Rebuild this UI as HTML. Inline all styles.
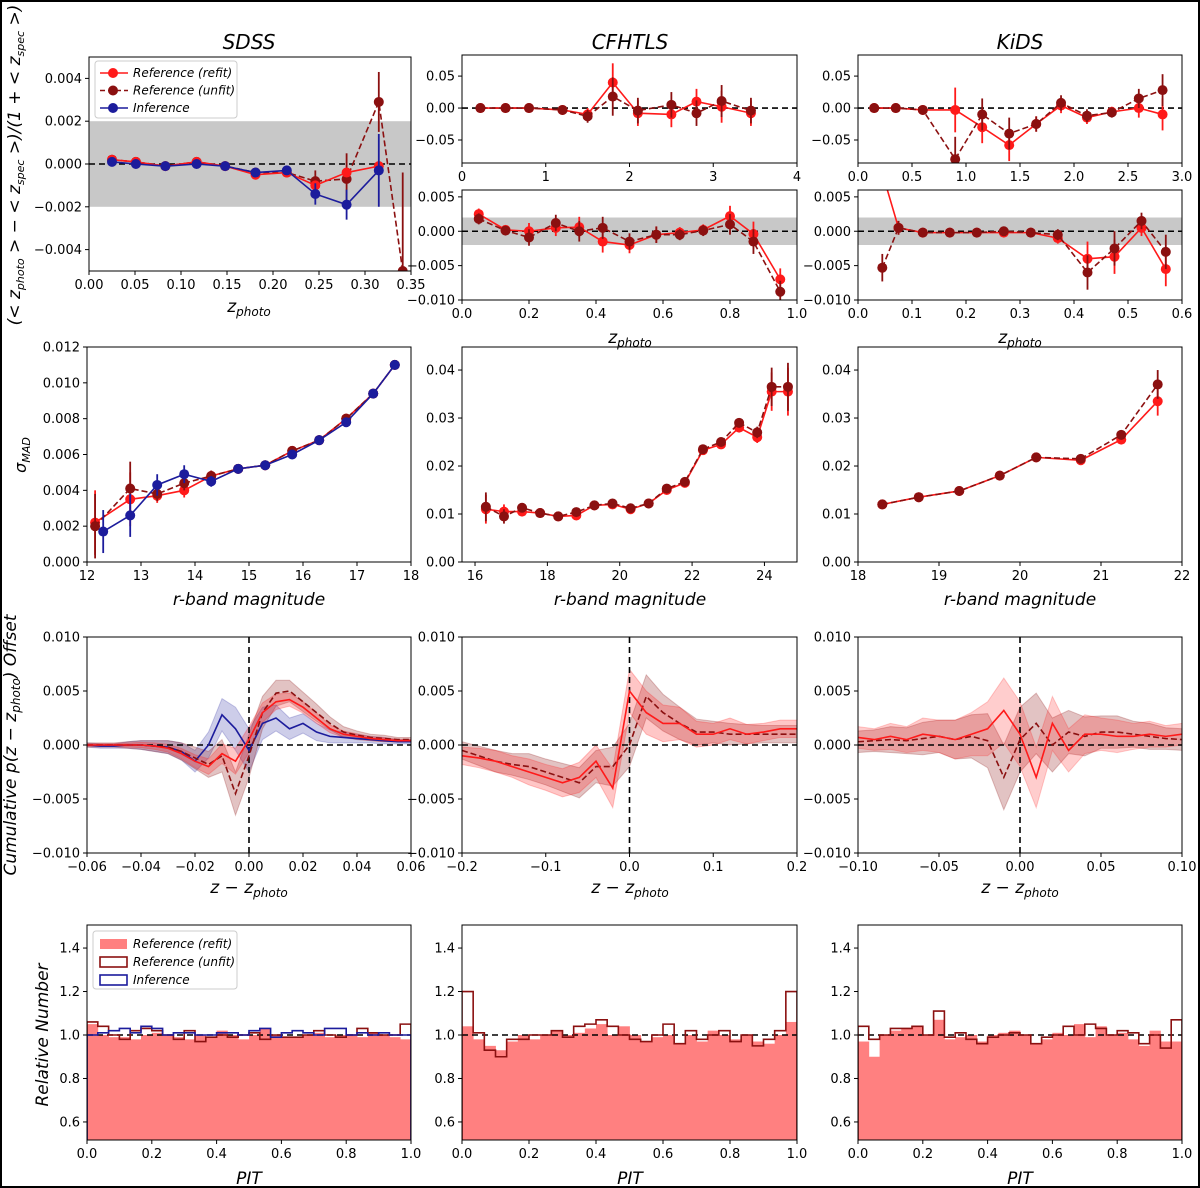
<!DOCTYPE html>
<html><head><meta charset="utf-8">
<style>
html,body{margin:0;padding:0;background:#fff;}
svg{display:block;font-family:"DejaVu Sans","Liberation Sans",sans-serif;}
.tl{font-size:13px;fill:#000;}
</style></head>
<body>
<svg id="fig" width="1200" height="1188" viewBox="0 0 1200 1188" xmlns="http://www.w3.org/2000/svg">
<rect x="1" y="1" width="1198" height="1186" fill="#fff" stroke="#000" stroke-width="2"/>
<text x="249" y="49" font-size="20" font-style="italic" text-anchor="middle">SDSS</text>
<text x="630" y="49" font-size="20" font-style="italic" text-anchor="middle">CFHTLS</text>
<text x="1020" y="49" font-size="20" font-style="italic" text-anchor="middle">KiDS</text>
<text transform="translate(20,165) rotate(-90)" font-size="17" font-style="italic" text-anchor="middle">(&lt; z<tspan font-size="11" dy="4">photo</tspan><tspan dy="-4"> &gt; − &lt; z</tspan><tspan font-size="11" dy="4">spec</tspan><tspan dy="-4"> &gt;)/(1 + &lt; z</tspan><tspan font-size="11" dy="4">spec</tspan><tspan dy="-4"> &gt;)</tspan></text>
<text transform="translate(26,455) rotate(-90)" font-size="16" font-style="italic" text-anchor="middle">σ<tspan font-size="11" dy="4">MAD</tspan></text>
<text transform="translate(16,745) rotate(-90)" font-size="17" font-style="italic" text-anchor="middle">Cumulative p(z − z<tspan font-size="12" dy="4">photo</tspan><tspan dy="-4">) Offset</tspan></text>
<text transform="translate(48,1035) rotate(-90)" font-size="17" font-style="italic" text-anchor="middle">Relative Number</text>
</svg>
<script>
const NS='http://www.w3.org/2000/svg';
const fig=document.getElementById('fig');
const RED='#ff1a1a', DRED='#8b1010', BLUE='#1c1c9c';

// ---------- DATA ----------
const sdssBiasX=[0.025,0.051,0.083,0.117,0.148,0.181,0.215,0.246,0.280,0.315];
const sdssBiasRefit=[0.0002,0.0001,-0.0001,0.0001,-0.0001,-0.0005,-0.0004,-0.0010,-0.0004,-0.0001];
const sdssBiasUnfitX=[0.025,0.051,0.083,0.117,0.148,0.181,0.215,0.246,0.280,0.315,0.341];
const sdssBiasUnfit=[0.0002,0.0001,-0.0001,0.0001,-0.0001,-0.0004,-0.0004,-0.0008,-0.0007,0.0029,-0.0050];
const sdssBiasUnfitErr=[0.0001,0.0001,0.0001,0.0001,0.0001,0.0001,0.0002,0.0005,0.0012,0.0014,0.0046];
const sdssBiasInfer=[0.0001,0.0000,-0.0001,0.0000,-0.0001,-0.0004,-0.0003,-0.0014,-0.0019,-0.0003];
const sdssBiasInferErr=[0.0001,0.0001,0.0001,0.0001,0.0001,0.0001,0.0002,0.0005,0.0007,0.0017];

const cfhtBiasX=[0.22,0.52,0.8,1.2,1.5,1.8,2.1,2.5,2.8,3.1,3.45];
const cfhtBiasRefit=[0,0,0,-0.003,-0.01,0.04,-0.008,-0.01,0.01,0.002,-0.008];
const cfhtBiasUnfit=[0,0,0,-0.003,-0.013,0.018,-0.004,0.005,-0.008,0.011,-0.004];
const cfhtBiasErr=[0.003,0.003,0.003,0.006,0.01,0.03,0.02,0.02,0.02,0.025,0.02];

const kidsBiasX=[0.15,0.35,0.6,0.9,1.15,1.4,1.65,1.88,2.12,2.35,2.6,2.82];
const kidsBiasRefit=[0,0,-0.003,-0.003,-0.03,-0.058,-0.025,0.004,-0.015,-0.006,0,-0.01];
const kidsBiasUnfit=[0,0,-0.003,-0.08,-0.01,-0.04,-0.025,0.008,-0.012,-0.007,0.015,0.028];
const kidsBiasErr=[0.003,0.003,0.005,0.035,0.025,0.025,0.012,0.012,0.01,0.008,0.015,0.025];

const cfhtBiasLoX=[0.05,0.13,0.2,0.28,0.35,0.42,0.5,0.58,0.65,0.72,0.8,0.87,0.95];
const cfhtBiasLoRefit=[0.0025,0.0002,0,0.0005,0.0006,-0.0015,-0.002,-0.0005,-0.0002,0.0002,0.0022,-0.0004,-0.007];
const cfhtBiasLoUnfit=[0.0018,0.0001,-0.0009,0.0012,0,0.0005,-0.0015,-0.0005,-0.0005,0.0001,0.001,-0.0015,-0.0088];
const cfhtBiasLoErr=[0.0008,0.0004,0.0012,0.0012,0.0015,0.0016,0.0012,0.0012,0.0008,0.0008,0.0015,0.0018,0.0016];

const kidsBiasLoX=[0.045,0.075,0.12,0.17,0.22,0.27,0.32,0.37,0.425,0.475,0.525,0.57];
const kidsBiasLoRefit=[0.0085,0.0005,-0.0002,-0.0002,-0.0002,-0.0002,-0.0002,-0.001,-0.004,-0.0037,0.0005,-0.0055];
const kidsBiasLoUnfit=[-0.0053,0.0005,-0.0002,-0.0002,-0.0002,0,-0.0002,-0.0005,-0.006,-0.0025,0.0015,-0.003];
const kidsBiasLoErr=[0.002,0.001,0.0004,0.0004,0.0004,0.0004,0.0004,0.0008,0.0025,0.0025,0.0012,0.0025];

const sdssMagX=[12.15,12.8,13.3,13.8,14.3,14.8,15.3,15.8,16.3,16.8,17.3,17.7];
const sdssSigRefit=[0.0022,0.0035,0.0037,0.0040,0.0048,0.0052,0.0054,0.0062,0.0068,0.0080,0.0094,0.0110];
const sdssSigUnfit=[0.0020,0.0041,0.0038,0.0044,0.0048,0.0052,0.0054,0.0062,0.0068,0.0080,0.0094,0.0110];
const sdssSigErr=[0.0018,0.0015,0.0004,0.0004,0.0003,0.0002,0.0002,0.0002,0.0002,0.0002,0.0002,0.0002];
const sdssMagInferX=[12.3,12.8,13.3,13.8,14.3,14.8,15.3,15.8,16.3,16.8,17.3,17.7];
const sdssSigInfer=[0.0017,0.0026,0.0043,0.0049,0.0045,0.0052,0.0054,0.0060,0.0068,0.0078,0.0094,0.0110];
const sdssSigInferErr=[0.0012,0.0012,0.0006,0.0005,0.0003,0.0002,0.0002,0.0002,0.0002,0.0002,0.0002,0.0002];

const cfhtMagX=[16.3,16.8,17.3,17.8,18.3,18.8,19.3,19.8,20.3,20.8,21.3,21.8,22.3,22.8,23.3,23.8,24.2,24.65];
const cfhtSigRefit=[0.011,0.0105,0.0105,0.0102,0.0095,0.0097,0.0118,0.012,0.011,0.0122,0.015,0.0165,0.0233,0.0245,0.028,0.026,0.0355,0.0355];
const cfhtSigUnfit=[0.0115,0.0095,0.0113,0.0102,0.0095,0.0104,0.0118,0.0122,0.0112,0.0122,0.0153,0.0167,0.0235,0.025,0.029,0.027,0.0365,0.0365];
const cfhtSigErr=[0.003,0.0015,0.0008,0.0006,0.0005,0.0005,0.0005,0.0005,0.0005,0.0005,0.0006,0.0006,0.0007,0.0008,0.001,0.0012,0.004,0.005];

const kidsMagX=[18.3,18.75,19.25,19.75,20.2,20.75,21.25,21.7];
const kidsSigRefit=[0.012,0.0135,0.0148,0.018,0.0218,0.0212,0.0255,0.0335];
const kidsSigUnfit=[0.012,0.0135,0.0148,0.018,0.0218,0.0215,0.0265,0.037];
const kidsSigErr=[0.0004,0.0004,0.0004,0.0005,0.0005,0.0007,0.001,0.003];

const sdssCumX=[-0.06,-0.055,-0.05,-0.045,-0.04,-0.035,-0.03,-0.025,-0.02,-0.015,-0.01,-0.005,0,0.005,0.01,0.015,0.02,0.025,0.03,0.035,0.04,0.045,0.05,0.055,0.06];
const sdssCumRefit=[0,0,0,0,0,-0.0001,-0.0003,-0.0008,-0.0015,-0.002,-0.0008,-0.0015,0.0005,0.003,0.004,0.0042,0.0035,0.0025,0.0015,0.001,0.0008,0.0006,0.0005,0.0004,0.0004];
const sdssCumUnfit=[0,0,0,0,0,-0.0001,-0.0002,-0.0006,-0.0012,-0.0018,-0.001,-0.0045,-0.001,0.003,0.0048,0.005,0.004,0.003,0.002,0.0012,0.0009,0.0007,0.0006,0.0005,0.0005];
const sdssCumInfer=[0,-0.0001,-0.0001,0,0,-0.0001,-0.0002,-0.0006,-0.0015,0,0.0028,0.0015,-0.0005,0.002,0.0025,0.0015,0.002,0.0012,0.0008,0.0007,0.0006,0.0005,0.0004,0.0003,0.0003];
const sdssCumErr=[0.0002,0.0002,0.0002,0.0003,0.0004,0.0005,0.0006,0.0008,0.001,0.0012,0.0015,0.002,0.002,0.0015,0.0012,0.001,0.0009,0.0008,0.0006,0.0005,0.0004,0.0003,0.0003,0.0002,0.0002];

const cfhtCumX=[-0.2,-0.18,-0.16,-0.14,-0.12,-0.1,-0.08,-0.06,-0.04,-0.02,0,0.02,0.04,0.06,0.08,0.1,0.12,0.14,0.16,0.18,0.2];
const cfhtCumRefit=[-0.001,-0.0012,-0.0015,-0.002,-0.0025,-0.003,-0.0035,-0.003,-0.0015,-0.004,0.005,0.003,0.002,0.002,0.001,0.001,0.0015,0.001,0.0012,0.0015,0.0015];
const cfhtCumUnfit=[-0.0005,-0.001,-0.0015,-0.0018,-0.002,-0.0025,-0.003,-0.0035,-0.002,-0.002,0,0.0045,0.003,0.002,0.0012,0.0012,0.001,0.001,0.001,0.001,0.001];
const cfhtCumErr=[0.0008,0.0009,0.001,0.001,0.0012,0.0012,0.0013,0.0014,0.0015,0.0018,0.002,0.002,0.0017,0.0015,0.0012,0.001,0.001,0.0009,0.0008,0.0008,0.0008];

const kidsCumX=[-0.1,-0.09,-0.08,-0.07,-0.06,-0.05,-0.04,-0.03,-0.02,-0.01,0,0.01,0.02,0.03,0.04,0.05,0.06,0.07,0.08,0.09,0.1];
const kidsCumRefit=[0.0007,0.0005,0.0008,0.0005,0.001,0.0008,0.0005,0.001,0.0015,0.0032,0.001,-0.003,0.002,-0.0005,0.001,0.001,0.0008,0.0008,0.001,0.0008,0.001];
const kidsCumUnfit=[0.0003,0.0004,0.0005,0.0004,0.0006,0.0008,0.0005,0.0008,0.0004,-0.003,0.0005,0.002,0,0.0012,0.0008,0.0012,0.0012,0.001,0.0008,0.0006,0.0005];
const kidsCumErr=[0.001,0.001,0.0012,0.0012,0.0015,0.0015,0.0018,0.002,0.0025,0.003,0.003,0.0028,0.0025,0.002,0.0018,0.0015,0.0015,0.0012,0.0012,0.001,0.001];

const sdssPitRefit=[1.05,1.0,0.99,0.99,0.98,1.0,1.01,1.0,0.99,0.98,1.0,0.99,1.02,1.0,0.98,1.0,1.03,1.0,0.99,0.99,1.0,1.01,0.99,1.0,1.0,0.99,1.01,1.0,0.99,0.98];
const sdssPitUnfit=[1.06,1.04,1.0,0.98,1.02,1.03,1.02,1.0,0.98,1.02,0.97,0.99,1.0,0.99,1.0,1.01,0.98,1.0,0.99,0.99,1.0,1.02,1.0,0.99,1.0,1.03,1.01,1.0,1.0,1.05];
const sdssPitInfer=[1.0,1.01,1.02,1.03,1.01,1.04,1.03,1.0,1.01,1.01,1.0,1.0,1.01,1.01,1.0,1.02,1.03,0.99,1.01,1.02,1.01,1.0,1.03,1.03,1.0,1.01,1.0,1.01,1.0,1.0];
const cfhtPitRefit=[1.04,0.98,0.95,0.93,0.97,1.0,0.98,1.0,1.02,1.0,1.01,1.03,1.05,1.0,1.04,1.0,0.97,0.99,1.0,0.96,1.0,0.97,1.02,1.0,0.98,1.0,0.97,0.96,1.0,1.06];
const cfhtPitUnfit=[1.2,1.01,0.93,0.9,0.98,0.98,1.0,1.0,1.02,0.99,1.04,1.05,1.07,1.04,1.0,0.98,0.97,1.0,1.05,0.96,1.02,0.98,1.0,1.02,0.97,1.0,0.95,0.98,1.02,1.2];
const kidsPitRefit=[0.97,0.9,1.0,1.02,1.03,1.04,1.0,1.07,0.98,0.99,1.0,0.97,1.0,1.01,1.02,1.0,0.96,0.98,1.01,1.0,1.05,0.99,1.04,1.0,1.01,0.98,0.95,1.02,0.97,0.97];
const kidsPitUnfit=[1.04,0.98,1.0,1.03,1.03,1.04,1.0,1.11,0.99,1.01,0.98,0.96,0.99,1.0,1.01,1.0,0.96,0.99,1.0,1.04,1.0,1.05,1.03,1.0,1.02,1.01,0.96,1.0,0.94,1.07];

// ---------- HELPERS ----------
function el(tag,parent){const e=document.createElementNS(NS,tag);(parent||fig).appendChild(e);return e;}
function fmt(v,d){const s=Math.abs(v).toFixed(d);return (v<-1e-12?'\u2212':'')+s;}
function panel(name,x0,x1,y0,y1,xd,yd,xt,xdec,yt,ydec){
  const g=el('g');
  
  
  const sx=v=>x0+(v-xd[0])/(xd[1]-xd[0])*(x1-x0);
  const sy=v=>y1-(v-yd[0])/(yd[1]-yd[0])*(y1-y0);
  const cp='cp-'+name;
  const c=el('clipPath',g);c.setAttribute('id',cp);
  const cr=el('rect',c);cr.setAttribute('x',x0);cr.setAttribute('y',y0);cr.setAttribute('width',x1-x0);cr.setAttribute('height',y1-y0);
  const plot=el('g',g);plot.setAttribute('clip-path','url(#'+cp+')');
  
  
  const ax=el('g',g);
  
  
  xt.forEach(v=>{const X=sx(v);const l=el('line',ax);l.setAttribute('x1',X);l.setAttribute('x2',X);l.setAttribute('y1',y1);l.setAttribute('y2',y1+4);l.setAttribute('stroke','#000');
    const t=el('text',ax);t.setAttribute('class','tl');t.setAttribute('x',X);t.setAttribute('y',y1+18);t.setAttribute('text-anchor','middle');t.textContent=fmt(v,xdec);
    
    });
  yt.forEach(v=>{const Y=sy(v);const l=el('line',ax);l.setAttribute('x1',x0-4);l.setAttribute('x2',x0);l.setAttribute('y1',Y);l.setAttribute('y2',Y);l.setAttribute('stroke','#000');
    const t=el('text',ax);t.setAttribute('class','tl');t.setAttribute('x',x0-7);t.setAttribute('y',Y+4.5);t.setAttribute('text-anchor','end');t.textContent=fmt(v,ydec);
    
    });
  return {g,plot,ax,sx,sy,x0,x1,y0,y1,
    frame(){const r=el('rect',g);r.setAttribute('x',x0);r.setAttribute('y',y0);r.setAttribute('width',x1-x0);r.setAttribute('height',y1-y0);r.setAttribute('fill','none');r.setAttribute('stroke','#000');r.setAttribute('stroke-width','1');
      
      }};
}
function band(P,lo,hi){const r=el('rect',P.plot);r.setAttribute('x',P.x0);r.setAttribute('width',P.x1-P.x0);r.setAttribute('y',P.sy(hi));r.setAttribute('height',P.sy(lo)-P.sy(hi));r.setAttribute('fill','#c8c8c8');
  
  }
function hline(P,v){const l=el('line',P.plot);l.setAttribute('x1',P.x0);l.setAttribute('x2',P.x1);l.setAttribute('y1',P.sy(v));l.setAttribute('y2',P.sy(v));l.setAttribute('stroke','#000');l.setAttribute('stroke-width','1.6');l.setAttribute('stroke-dasharray','6,4');
  
  }
function vline(P,v){const l=el('line',P.plot);l.setAttribute('x1',P.sx(v));l.setAttribute('x2',P.sx(v));l.setAttribute('y1',P.y0);l.setAttribute('y2',P.y1);l.setAttribute('stroke','#000');l.setAttribute('stroke-width','1.6');l.setAttribute('stroke-dasharray','6,4');
  
  }
function series(P,name,xs,ys,errs,color,dashed,markers){
  const g=el('g',P.plot);
  
  
  const pl=el('polyline',g);pl.setAttribute('points',xs.map((x,i)=>P.sx(x)+','+P.sy(ys[i])).join(' '));pl.setAttribute('fill','none');pl.setAttribute('stroke',color);pl.setAttribute('stroke-width','1.6');if(dashed)pl.setAttribute('stroke-dasharray','6,3');
  if(errs)xs.forEach((x,i)=>{const l=el('line',g);l.setAttribute('x1',P.sx(x));l.setAttribute('x2',P.sx(x));l.setAttribute('y1',P.sy(ys[i]-errs[i]));l.setAttribute('y2',P.sy(ys[i]+errs[i]));l.setAttribute('stroke',color);l.setAttribute('stroke-width','1.8');});
  if(markers)xs.forEach((x,i)=>{const c=el('circle',g);c.setAttribute('cx',P.sx(x));c.setAttribute('cy',P.sy(ys[i]));c.setAttribute('r','5');c.setAttribute('fill',color);
    
    });
}
function area(P,name,xs,ys,errs,color,op){
  const p=el('path',P.plot);
  
  
  let d='M'+xs.map((x,i)=>P.sx(x)+','+P.sy(ys[i]+errs[i])).join('L');
  for(let i=xs.length-1;i>=0;i--)d+='L'+P.sx(xs[i])+','+P.sy(ys[i]-errs[i]);
  p.setAttribute('d',d+'Z');p.setAttribute('fill',color);p.setAttribute('fill-opacity',op);p.setAttribute('stroke',color);p.setAttribute('stroke-opacity',op);
}
function bars(P,name,vals){
  const g=el('g',P.plot);
  
  
  const w=1/vals.length;
  vals.forEach((v,i)=>{const r=el('rect',g);const X=P.sx(i*w),X2=P.sx((i+1)*w);r.setAttribute('x',X);r.setAttribute('width',X2-X+0.4);r.setAttribute('y',P.sy(v));r.setAttribute('height',P.y1-P.sy(v));r.setAttribute('fill','#ff8080');
    
    });
}
function step(P,name,vals,color){
  const w=1/vals.length;let pts=[[P.sx(0),P.y1]];
  vals.forEach((v,i)=>{pts.push([P.sx(i*w),P.sy(v)]);pts.push([P.sx((i+1)*w),P.sy(v)]);});
  pts.push([P.sx(1),P.y1]);
  const pl=el('polyline',P.plot);
  
  
  pl.setAttribute('points',pts.map(p=>p.join(',')).join(' '));pl.setAttribute('fill','none');pl.setAttribute('stroke',color);pl.setAttribute('stroke-width','1.6');
}
function xlabel(x,y,main,sub,name){const t=el('text');t.setAttribute('x',x);t.setAttribute('y',y);t.setAttribute('text-anchor','middle');t.setAttribute('font-size','17');t.setAttribute('font-style','italic');
  
  
  t.innerHTML=main+(sub?'<tspan font-size="12" dy="4">'+sub+'</tspan>':'');}
function range(a,b,s){const r=[];for(let v=a;v<=b+s/1000;v+=s)r.push(Math.round(v/s)*s);return r;}

// ---------- ROW 1 ----------
let P=panel('sdss-bias-panel',89,411,57,271,[0,0.35],[-0.005,0.005],range(0,0.35,0.05),2,range(-0.004,0.004,0.002),3);
band(P,-0.002,0.002);hline(P,0);
series(P,'sdss-bias-unfit',sdssBiasUnfitX,sdssBiasUnfit,sdssBiasUnfitErr,DRED,true,true);
series(P,'sdss-bias-refit',sdssBiasX,sdssBiasRefit,null,RED,false,true);
series(P,'sdss-bias-inference',sdssBiasX,sdssBiasInfer,sdssBiasInferErr,BLUE,false,true);
P.frame();
xlabel(249,312,'z','photo','x-axis-title-sdss-bias');
(function(){const g=el('g');
  
  
  const r=el('rect',g);r.setAttribute('x',95);r.setAttribute('y',61);r.setAttribute('width',142);r.setAttribute('height',57);r.setAttribute('rx',3);r.setAttribute('fill','#fff');r.setAttribute('fill-opacity','0.85');r.setAttribute('stroke','#ccc');
  [['Reference (refit)',RED,false],['Reference (unfit)',DRED,true],['Inference',BLUE,false]].forEach((e,i)=>{const y=73+i*17.5;
    const gg=el('g',g);
    
    
    const l=el('line',gg);l.setAttribute('x1',100);l.setAttribute('x2',128);l.setAttribute('y1',y);l.setAttribute('y2',y);l.setAttribute('stroke',e[1]);l.setAttribute('stroke-width','1.6');if(e[2])l.setAttribute('stroke-dasharray','5,3');
    const c=el('circle',gg);c.setAttribute('cx',113);c.setAttribute('cy',y);c.setAttribute('r',5);c.setAttribute('fill',e[1]);
    const t=el('text',gg);t.setAttribute('x',133);t.setAttribute('y',y+4);t.setAttribute('font-size','12');t.setAttribute('font-style','italic');t.textContent=e[0];});
})();

P=panel('cfhtls-bias-panel',462,797,55,163,[0,4],[-0.086,0.083],range(0,4,1),0,[-0.05,0,0.05],2);
hline(P,0);
series(P,'cfhtls-bias-refit',cfhtBiasX,cfhtBiasRefit,cfhtBiasErr,RED,false,true);
series(P,'cfhtls-bias-unfit',cfhtBiasX,cfhtBiasUnfit,cfhtBiasErr,DRED,true,true);
P.frame();
P=panel('kids-bias-panel',858,1182,55,163,[0,3],[-0.086,0.083],range(0,3,0.5),1,[-0.05,0,0.05],2);
hline(P,0);
series(P,'kids-bias-refit',kidsBiasX,kidsBiasRefit,kidsBiasErr,RED,false,true);
series(P,'kids-bias-unfit',kidsBiasX,kidsBiasUnfit,kidsBiasErr,DRED,true,true);
P.frame();
P=panel('cfhtls-bias-low-panel',462,797,190,300,[0,1],[-0.010,0.006],range(0,1,0.2),1,range(-0.01,0.005,0.005),3);
band(P,-0.002,0.002);hline(P,0);
series(P,'cfhtls-bias-low-refit',cfhtBiasLoX,cfhtBiasLoRefit,cfhtBiasLoErr,RED,false,true);
series(P,'cfhtls-bias-low-unfit',cfhtBiasLoX,cfhtBiasLoUnfit,cfhtBiasLoErr,DRED,true,true);
P.frame();
xlabel(630,343,'z','photo','x-axis-title-cfhtls-bias');
P=panel('kids-bias-low-panel',858,1182,190,300,[0,0.6],[-0.010,0.006],range(0,0.6,0.1),1,range(-0.01,0.005,0.005),3);
band(P,-0.002,0.002);hline(P,0);
series(P,'kids-bias-low-refit',kidsBiasLoX,kidsBiasLoRefit,kidsBiasLoErr,RED,false,true);
series(P,'kids-bias-low-unfit',kidsBiasLoX,kidsBiasLoUnfit,kidsBiasLoErr,DRED,true,true);
P.frame();
xlabel(1020,343,'z','photo','x-axis-title-kids-bias');

// ---------- ROW 2 ----------
P=panel('sdss-sigma-panel',87,411,347,562,[12,18],[0,0.012],range(12,18,1),0,range(0,0.012,0.002),3);
series(P,'sdss-sigma-refit',sdssMagX,sdssSigRefit,sdssSigErr,RED,false,true);
series(P,'sdss-sigma-unfit',sdssMagX,sdssSigUnfit,sdssSigErr,DRED,true,true);
series(P,'sdss-sigma-inference',sdssMagInferX,sdssSigInfer,sdssSigInferErr,BLUE,false,true);
P.frame();
xlabel(249,605,'r-band  magnitude','','x-axis-title-sdss-mag');
P=panel('cfhtls-sigma-panel',462,797,347,562,[15.64,24.9],[0,0.0448],range(16,24,2),0,range(0,0.04,0.01),2);
series(P,'cfhtls-sigma-refit',cfhtMagX,cfhtSigRefit,cfhtSigErr,RED,false,true);
series(P,'cfhtls-sigma-unfit',cfhtMagX,cfhtSigUnfit,cfhtSigErr,DRED,true,true);
P.frame();
xlabel(630,605,'r-band  magnitude','','x-axis-title-cfhtls-mag');
P=panel('kids-sigma-panel',858,1182,347,562,[18,22],[0,0.0448],range(18,22,1),0,range(0,0.04,0.01),2);
series(P,'kids-sigma-refit',kidsMagX,kidsSigRefit,kidsSigErr,RED,false,true);
series(P,'kids-sigma-unfit',kidsMagX,kidsSigUnfit,kidsSigErr,DRED,true,true);
P.frame();
xlabel(1020,605,'r-band  magnitude','','x-axis-title-kids-mag');

// ---------- ROW 3 ----------
P=panel('sdss-cumulative-panel',87,411,637,853,[-0.06,0.06],[-0.01,0.01],range(-0.06,0.06,0.02),2,range(-0.01,0.01,0.005),3);
area(P,'sdss-cum-inference-band',sdssCumX,sdssCumInfer,sdssCumErr,BLUE,0.22);
area(P,'sdss-cum-unfit-band',sdssCumX,sdssCumUnfit,sdssCumErr,DRED,0.25);
area(P,'sdss-cum-refit-band',sdssCumX,sdssCumRefit,sdssCumErr.map(e=>e*0.6),RED,0.25);
hline(P,0);vline(P,0);
series(P,'sdss-cum-inference',sdssCumX,sdssCumInfer,null,BLUE,false,false);
series(P,'sdss-cum-unfit',sdssCumX,sdssCumUnfit,null,DRED,true,false);
series(P,'sdss-cum-refit',sdssCumX,sdssCumRefit,null,RED,false,false);
P.frame();
xlabel(249,893,'z − z','photo','x-axis-title-sdss-cum');
P=panel('cfhtls-cumulative-panel',462,797,637,853,[-0.2,0.2],[-0.01,0.01],range(-0.2,0.2,0.1),1,range(-0.01,0.01,0.005),3);
area(P,'cfhtls-cum-unfit-band',cfhtCumX,cfhtCumUnfit,cfhtCumErr,DRED,0.25);
area(P,'cfhtls-cum-refit-band',cfhtCumX,cfhtCumRefit,cfhtCumErr,RED,0.25);
hline(P,0);vline(P,0);
series(P,'cfhtls-cum-unfit',cfhtCumX,cfhtCumUnfit,null,DRED,true,false);
series(P,'cfhtls-cum-refit',cfhtCumX,cfhtCumRefit,null,RED,false,false);
P.frame();
xlabel(630,893,'z − z','photo','x-axis-title-cfhtls-cum');
P=panel('kids-cumulative-panel',858,1182,637,853,[-0.1,0.1],[-0.01,0.01],range(-0.1,0.1,0.05),2,range(-0.01,0.01,0.005),3);
area(P,'kids-cum-unfit-band',kidsCumX,kidsCumUnfit,kidsCumErr,DRED,0.25);
area(P,'kids-cum-refit-band',kidsCumX,kidsCumRefit,kidsCumErr,RED,0.22);
hline(P,0);vline(P,0);
series(P,'kids-cum-unfit',kidsCumX,kidsCumUnfit,null,DRED,true,false);
series(P,'kids-cum-refit',kidsCumX,kidsCumRefit,null,RED,false,false);
P.frame();
xlabel(1020,893,'z − z','photo','x-axis-title-kids-cum');

// ---------- ROW 4 ----------
P=panel('sdss-pit-panel',87,411,925,1140,[0,1],[0.517,1.506],range(0,1,0.2),1,range(0.6,1.4,0.2),1);
bars(P,'sdss-pit-refit',sdssPitRefit);hline(P,1);
step(P,'sdss-pit-unfit',sdssPitUnfit,DRED);step(P,'sdss-pit-inference',sdssPitInfer,BLUE);
P.frame();
xlabel(249,1184,'PIT','','x-axis-title-sdss-pit');
(function(){const g=el('g');
  
  
  const r=el('rect',g);r.setAttribute('x',93);r.setAttribute('y',931);r.setAttribute('width',144);r.setAttribute('height',58);r.setAttribute('rx',3);r.setAttribute('fill','#fff');r.setAttribute('stroke','#ccc');
  [['Reference (refit)','fill'],['Reference (unfit)',DRED],['Inference',BLUE]].forEach((e,i)=>{const y=944+i*18;
    const gg=el('g',g);
    
    
    const s=el('rect',gg);s.setAttribute('x',100);s.setAttribute('y',y-5);s.setAttribute('width',27);s.setAttribute('height',10);
    if(e[1]==='fill'){s.setAttribute('fill','#ff8080');}else{s.setAttribute('fill','#fff');s.setAttribute('stroke',e[1]);s.setAttribute('stroke-width','1.6');}
    const t=el('text',gg);t.setAttribute('x',133);t.setAttribute('y',y+4);t.setAttribute('font-size','12');t.setAttribute('font-style','italic');t.textContent=e[0];});
})();
P=panel('cfhtls-pit-panel',462,797,925,1140,[0,1],[0.517,1.506],range(0,1,0.2),1,range(0.6,1.4,0.2),1);
bars(P,'cfhtls-pit-refit',cfhtPitRefit);hline(P,1);step(P,'cfhtls-pit-unfit',cfhtPitUnfit,DRED);
P.frame();
xlabel(630,1184,'PIT','','x-axis-title-cfhtls-pit');
P=panel('kids-pit-panel',858,1182,925,1140,[0,1],[0.517,1.506],range(0,1,0.2),1,range(0.6,1.4,0.2),1);
bars(P,'kids-pit-refit',kidsPitRefit);hline(P,1);step(P,'kids-pit-unfit',kidsPitUnfit,DRED);
P.frame();
xlabel(1020,1184,'PIT','','x-axis-title-kids-pit');
</script>
</body></html>
